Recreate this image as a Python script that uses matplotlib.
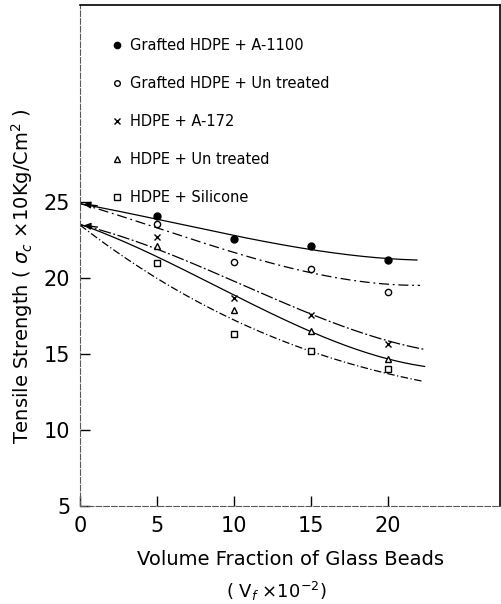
import numpy as np
import matplotlib
matplotlib.use("Agg")
import matplotlib.pyplot as plt
from matplotlib.lines import Line2D

# --- data ---
vf = [5, 10, 15, 20]
labels = ["Grafted HDPE + A-1100", "Grafted HDPE + Un treated", "HDPE + A-172",
          "HDPE + Un treated", "HDPE + Silicone"]

pts_a1100 = [24.1, 22.6, 22.1, 21.2]
pts_graft_untr = [23.6, 21.1, 20.6, 19.1]
pts_a172 = [22.7, 18.7, 17.6, 15.7]
pts_untr = [22.1, 17.9, 16.5, 14.7]
pts_silicone = [21.0, 16.3, 15.2, 14.0]

# fitted curves
curve_x_a1100 = [0, 5, 10, 15, 20, 21.9]
curve_a1100 = [24.9, 23.9, 22.8, 21.9, 21.3, 21.2]
curve_x_graft_untr = [0, 5, 10, 15, 20, 22.1]
curve_graft_untr = [24.9, 23.4, 21.6, 20.4, 19.65, 19.5]
curve_x_a172 = [0, 5, 10, 15, 20, 22.4]
curve_a172 = [23.5, 22.0, 19.7, 17.7, 15.9, 15.3]
curve_x_untr = [0, 5, 10, 15, 20, 22.4]
curve_untr = [23.5, 21.6, 18.7, 16.5, 14.85, 14.1]
curve_x_silicone = [0, 5, 10, 15, 20, 22.2]
curve_silicone = [23.5, 20.0, 17.2, 15.3, 13.6, 13.3]

plt.rcParams['font.family'] = ['DejaVu Sans']

fig = plt.figure(figsize=(5.01, 6.04), dpi=100)
ax = fig.add_axes([0.160, 0.162, 0.838, 0.830])

series = [
    (pts_a1100, curve_x_a1100, curve_a1100, dict(marker='o', mfc='black', mec='black', ms=5), '-'),
    (pts_graft_untr, curve_x_graft_untr, curve_graft_untr, dict(marker='o', mfc='white', mec='black', ms=4.5), (0, (8, 3, 1.5, 3))),
    (pts_a172, curve_x_a172, curve_a172, dict(marker='x', mfc='none', mec='black', ms=4.5), (0, (10, 2, 1.5, 2))),
    (pts_untr, curve_x_untr, curve_untr, dict(marker='^', mfc='white', mec='black', ms=5), '-'),
    (pts_silicone, curve_x_silicone, curve_silicone, dict(marker='s', mfc='white', mec='black', ms=4.5), (0, (6, 2, 1, 2))),
]

handles = []
for (pts, cx, cy, mk, ls), lab in zip(series, labels):
    ax.plot(vf, pts, linestyle='none', mew=1.0, zorder=3, **mk)
    # smooth drawn curve through the read values
    coef = np.polyfit(cx, cy, 3)
    xs = np.linspace(cx[0], cx[-1], 200)
    ax.plot(xs, np.polyval(coef, xs), color='black', lw=0.9, linestyle=ls)
    handles.append(Line2D([], [], linestyle='none', mew=1.0, **{**mk, 'ms': mk['ms'] * 0.9}))

# arrow heads at vf = 0
for y0 in [curve_a1100[0], curve_a172[0]]:
    ax.annotate('', xy=(0.05, y0), xytext=(1.3, y0 - 0.15),
                arrowprops=dict(arrowstyle='-|>', color='black', lw=1.0,
                                mutation_scale=10))

leg = ax.legend(handles, labels, loc='upper left', bbox_to_anchor=(0.063, 0.945),
                frameon=False, fontsize=10.5, labelspacing=1.58, handlelength=0.6,
                handletextpad=0.6, borderaxespad=0)

ax.set_xlim(0, 27.3)
ax.set_ylim(5, 38)
ax.set_xticks([0, 5, 10, 15, 20])
ax.set_yticks([5, 10, 15, 20, 25])
ax.tick_params(direction='in', length=7, width=1.0, labelsize=15, pad=7)

for s in ['left', 'bottom']:
    ax.spines[s].set_linestyle((0, (5, 2)))
    ax.spines[s].set_color('0.35')
    ax.spines[s].set_linewidth(0.8)
for s in ['top', 'right']:
    ax.spines[s].set_linewidth(1.2)

ax.set_xlabel('Volume Fraction of Glass Beads', fontsize=14, labelpad=10)
ax.text(0.467, -0.17, '( V$_f$ ×10$^{-2}$)', transform=ax.transAxes, fontsize=13,
        ha='center', va='center')
ax.set_ylabel('Tensile Strength ( $\\sigma_c$ ×10Kg/Cm$^2$ )', fontsize=14)
ax.yaxis.set_label_coords(-0.107, 0.46)

fig.savefig('out.png', dpi=100)
